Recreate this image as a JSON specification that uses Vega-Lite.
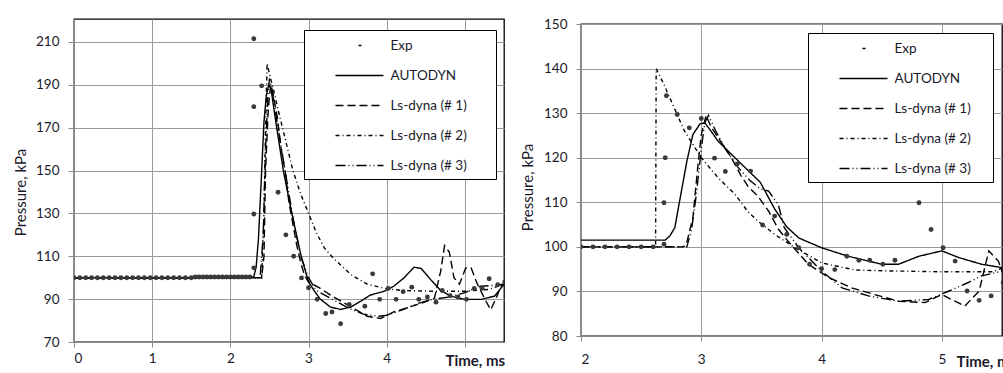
{
  "$schema": "https://vega.github.io/schema/vega-lite/v6.json",
  "padding": {"left": 12, "top": 16, "right": 0, "bottom": 0},
  "background": "#ffffff",
  "config": {
    "font": "Lato",
    "view": {"stroke": "#000000", "strokeWidth": 1.3},
    "axis": {
      "grid": true, "gridColor": "#9a9a9a", "gridWidth": 1, "gridOpacity": 1,
      "domainColor": "#8a8a8a", "tickColor": "#8a8a8a", "tickSize": 5,
      "labelFont": "Lato", "labelFontSize": 13.5, "labelColor": "#1a1a2a",
      "titleFont": "Lato", "titleFontSize": 15, "titleFontWeight": "normal", "titleColor": "#1a1a2a"
    },
    "legend": {
      "orient": "none", "fillColor": "#ffffff", "strokeColor": "#000000",
      "padding": 6.5, "symbolType": "M-3,0H3", "symbolSize": 256, "symbolStrokeWidth": 1.5,
      "symbolStrokeColor": "#000000", "symbolFillColor": "transparent", "symbolOffset": 40, "labelOffset": 22,
      "labelFont": "Lato", "labelFontSize": 13.5, "labelColor": "#1a1a2a", "rowPadding": 14,
      "titleOrient": "right", "titlePadding": 23
    }
  },
  "datasets": {
    "L": [
      {"t":0,"p":100,"s":"Exp"},{"t":0.075,"p":100,"s":"Exp"},{"t":0.15,"p":100,"s":"Exp"},{"t":0.225,"p":100,"s":"Exp"},{"t":0.3,"p":100,"s":"Exp"},{"t":0.375,"p":100,"s":"Exp"},{"t":0.45,"p":100,"s":"Exp"},{"t":0.525,"p":100,"s":"Exp"},{"t":0.6,"p":100,"s":"Exp"},{"t":0.675,"p":100,"s":"Exp"},{"t":0.75,"p":100,"s":"Exp"},{"t":0.825,"p":100,"s":"Exp"},{"t":0.9,"p":100,"s":"Exp"},{"t":0.975,"p":100,"s":"Exp"},{"t":1.05,"p":100,"s":"Exp"},{"t":1.125,"p":100,"s":"Exp"},{"t":1.2,"p":100,"s":"Exp"},{"t":1.275,"p":100,"s":"Exp"},{"t":1.35,"p":100,"s":"Exp"},{"t":1.425,"p":100,"s":"Exp"},{"t":1.5,"p":100,"s":"Exp"},{"t":1.55,"p":100.3,"s":"Exp"},{"t":1.6,"p":100.3,"s":"Exp"},{"t":1.65,"p":100.3,"s":"Exp"},{"t":1.7,"p":100.3,"s":"Exp"},{"t":1.75,"p":100.3,"s":"Exp"},{"t":1.8,"p":100.3,"s":"Exp"},{"t":1.85,"p":100.3,"s":"Exp"},{"t":1.9,"p":100.3,"s":"Exp"},{"t":1.95,"p":100.3,"s":"Exp"},{"t":2.0,"p":100.3,"s":"Exp"},{"t":2.05,"p":100.3,"s":"Exp"},{"t":2.1,"p":100.3,"s":"Exp"},{"t":2.15,"p":100.3,"s":"Exp"},{"t":2.2,"p":100.3,"s":"Exp"},{"t":2.25,"p":100.3,"s":"Exp"},
      {"t":2.3,"p":211.5,"s":"Exp"},{"t":2.4,"p":189.5,"s":"Exp"},{"t":2.3,"p":179.8,"s":"Exp"},{"t":2.61,"p":139.9,"s":"Exp"},{"t":2.3,"p":129.7,"s":"Exp"},{"t":2.71,"p":120,"s":"Exp"},{"t":2.81,"p":110,"s":"Exp"},{"t":2.3,"p":104.6,"s":"Exp"},{"t":2.91,"p":99.9,"s":"Exp"},{"t":3.0,"p":95.3,"s":"Exp"},{"t":3.11,"p":89.9,"s":"Exp"},{"t":3.22,"p":83.3,"s":"Exp"},{"t":3.3,"p":84.0,"s":"Exp"},{"t":3.41,"p":78.5,"s":"Exp"},{"t":3.52,"p":87.5,"s":"Exp"},{"t":3.72,"p":86.7,"s":"Exp"},{"t":3.82,"p":101.8,"s":"Exp"},{"t":3.91,"p":89.9,"s":"Exp"},{"t":4.02,"p":95,"s":"Exp"},{"t":4.12,"p":89.9,"s":"Exp"},{"t":4.21,"p":93.5,"s":"Exp"},{"t":4.32,"p":95.6,"s":"Exp"},{"t":4.41,"p":89.9,"s":"Exp"},{"t":4.52,"p":91,"s":"Exp"},{"t":4.63,"p":88.6,"s":"Exp"},{"t":4.71,"p":94,"s":"Exp"},{"t":4.81,"p":91.6,"s":"Exp"},{"t":4.91,"p":91,"s":"Exp"},{"t":5.02,"p":89.9,"s":"Exp"},{"t":5.12,"p":95,"s":"Exp"},{"t":5.22,"p":95,"s":"Exp"},{"t":5.31,"p":99.5,"s":"Exp"},{"t":5.42,"p":96.7,"s":"Exp"},{"t":5.51,"p":98,"s":"Exp"},
      {"t":0,"p":100,"s":"AUTODYN"},{"t":2.25,"p":100,"s":"AUTODYN"},{"t":2.3,"p":100.5,"s":"AUTODYN"},{"t":2.33,"p":105,"s":"AUTODYN"},{"t":2.36,"p":118.5,"s":"AUTODYN"},{"t":2.4,"p":149.5,"s":"AUTODYN"},{"t":2.43,"p":172.8,"s":"AUTODYN"},{"t":2.46,"p":185,"s":"AUTODYN"},{"t":2.49,"p":190,"s":"AUTODYN"},{"t":2.52,"p":188,"s":"AUTODYN"},{"t":2.58,"p":173,"s":"AUTODYN"},{"t":2.68,"p":149.5,"s":"AUTODYN"},{"t":2.79,"p":129.4,"s":"AUTODYN"},{"t":2.9,"p":110.8,"s":"AUTODYN"},{"t":3.0,"p":98,"s":"AUTODYN"},{"t":3.08,"p":93.5,"s":"AUTODYN"},{"t":3.15,"p":90,"s":"AUTODYN"},{"t":3.28,"p":86.3,"s":"AUTODYN"},{"t":3.41,"p":85.2,"s":"AUTODYN"},{"t":3.54,"p":86.3,"s":"AUTODYN"},{"t":3.67,"p":89.1,"s":"AUTODYN"},{"t":3.79,"p":91.9,"s":"AUTODYN"},{"t":3.97,"p":93.7,"s":"AUTODYN"},{"t":4.09,"p":96,"s":"AUTODYN"},{"t":4.22,"p":99.9,"s":"AUTODYN"},{"t":4.35,"p":104.9,"s":"AUTODYN"},{"t":4.44,"p":104.3,"s":"AUTODYN"},{"t":4.56,"p":99.2,"s":"AUTODYN"},{"t":4.69,"p":94,"s":"AUTODYN"},{"t":4.82,"p":91.4,"s":"AUTODYN"},{"t":4.99,"p":89.9,"s":"AUTODYN"},{"t":5.21,"p":89.9,"s":"AUTODYN"},{"t":5.38,"p":91.4,"s":"AUTODYN"},{"t":5.48,"p":96,"s":"AUTODYN"},{"t":5.52,"p":98,"s":"AUTODYN"},
      {"t":0,"p":100,"s":"Ls-dyna (# 1)"},{"t":2.4,"p":100,"s":"Ls-dyna (# 1)"},{"t":2.43,"p":110,"s":"Ls-dyna (# 1)"},{"t":2.45,"p":150,"s":"Ls-dyna (# 1)"},{"t":2.48,"p":175,"s":"Ls-dyna (# 1)"},{"t":2.5,"p":185,"s":"Ls-dyna (# 1)"},{"t":2.52,"p":190,"s":"Ls-dyna (# 1)"},{"t":2.55,"p":185,"s":"Ls-dyna (# 1)"},{"t":2.6,"p":175,"s":"Ls-dyna (# 1)"},{"t":2.65,"p":160,"s":"Ls-dyna (# 1)"},{"t":2.7,"p":150,"s":"Ls-dyna (# 1)"},{"t":2.75,"p":135,"s":"Ls-dyna (# 1)"},{"t":2.8,"p":125,"s":"Ls-dyna (# 1)"},{"t":2.85,"p":115,"s":"Ls-dyna (# 1)"},{"t":2.9,"p":107,"s":"Ls-dyna (# 1)"},{"t":2.95,"p":101,"s":"Ls-dyna (# 1)"},{"t":3.0,"p":98,"s":"Ls-dyna (# 1)"},{"t":3.15,"p":95,"s":"Ls-dyna (# 1)"},{"t":3.32,"p":91,"s":"Ls-dyna (# 1)"},{"t":3.54,"p":86.5,"s":"Ls-dyna (# 1)"},{"t":3.75,"p":82,"s":"Ls-dyna (# 1)"},{"t":3.92,"p":81,"s":"Ls-dyna (# 1)"},{"t":4.09,"p":84,"s":"Ls-dyna (# 1)"},{"t":4.26,"p":86,"s":"Ls-dyna (# 1)"},{"t":4.44,"p":88,"s":"Ls-dyna (# 1)"},{"t":4.61,"p":90.5,"s":"Ls-dyna (# 1)"},{"t":4.69,"p":103,"s":"Ls-dyna (# 1)"},{"t":4.74,"p":115,"s":"Ls-dyna (# 1)"},{"t":4.8,"p":112,"s":"Ls-dyna (# 1)"},{"t":4.86,"p":100,"s":"Ls-dyna (# 1)"},{"t":4.93,"p":97,"s":"Ls-dyna (# 1)"},{"t":5.01,"p":104.5,"s":"Ls-dyna (# 1)"},{"t":5.08,"p":104.5,"s":"Ls-dyna (# 1)"},{"t":5.16,"p":97,"s":"Ls-dyna (# 1)"},{"t":5.27,"p":89,"s":"Ls-dyna (# 1)"},{"t":5.33,"p":85,"s":"Ls-dyna (# 1)"},{"t":5.4,"p":90.5,"s":"Ls-dyna (# 1)"},{"t":5.46,"p":96,"s":"Ls-dyna (# 1)"},{"t":5.51,"p":97,"s":"Ls-dyna (# 1)"},
      {"t":0,"p":100,"s":"Ls-dyna (# 2)"},{"t":2.4,"p":100,"s":"Ls-dyna (# 2)"},{"t":2.43,"p":130,"s":"Ls-dyna (# 2)"},{"t":2.45,"p":170,"s":"Ls-dyna (# 2)"},{"t":2.47,"p":200,"s":"Ls-dyna (# 2)"},{"t":2.5,"p":195,"s":"Ls-dyna (# 2)"},{"t":2.55,"p":188,"s":"Ls-dyna (# 2)"},{"t":2.6,"p":180,"s":"Ls-dyna (# 2)"},{"t":2.7,"p":165,"s":"Ls-dyna (# 2)"},{"t":2.8,"p":150,"s":"Ls-dyna (# 2)"},{"t":2.9,"p":139,"s":"Ls-dyna (# 2)"},{"t":3.0,"p":130,"s":"Ls-dyna (# 2)"},{"t":3.1,"p":121,"s":"Ls-dyna (# 2)"},{"t":3.2,"p":114,"s":"Ls-dyna (# 2)"},{"t":3.32,"p":109,"s":"Ls-dyna (# 2)"},{"t":3.54,"p":101.5,"s":"Ls-dyna (# 2)"},{"t":3.75,"p":97,"s":"Ls-dyna (# 2)"},{"t":3.97,"p":95,"s":"Ls-dyna (# 2)"},{"t":4.2,"p":94,"s":"Ls-dyna (# 2)"},{"t":4.6,"p":93.7,"s":"Ls-dyna (# 2)"},{"t":5.0,"p":93.7,"s":"Ls-dyna (# 2)"},{"t":5.3,"p":94.5,"s":"Ls-dyna (# 2)"},{"t":5.51,"p":97,"s":"Ls-dyna (# 2)"},
      {"t":0,"p":100,"s":"Ls-dyna (# 3)"},{"t":2.38,"p":100,"s":"Ls-dyna (# 3)"},{"t":2.42,"p":120,"s":"Ls-dyna (# 3)"},{"t":2.45,"p":160,"s":"Ls-dyna (# 3)"},{"t":2.48,"p":185,"s":"Ls-dyna (# 3)"},{"t":2.5,"p":193,"s":"Ls-dyna (# 3)"},{"t":2.53,"p":188,"s":"Ls-dyna (# 3)"},{"t":2.6,"p":172,"s":"Ls-dyna (# 3)"},{"t":2.7,"p":150,"s":"Ls-dyna (# 3)"},{"t":2.8,"p":128,"s":"Ls-dyna (# 3)"},{"t":2.9,"p":110,"s":"Ls-dyna (# 3)"},{"t":3.0,"p":100,"s":"Ls-dyna (# 3)"},{"t":3.1,"p":94,"s":"Ls-dyna (# 3)"},{"t":3.3,"p":90,"s":"Ls-dyna (# 3)"},{"t":3.5,"p":86,"s":"Ls-dyna (# 3)"},{"t":3.7,"p":83,"s":"Ls-dyna (# 3)"},{"t":3.9,"p":82,"s":"Ls-dyna (# 3)"},{"t":4.0,"p":82.5,"s":"Ls-dyna (# 3)"},{"t":4.2,"p":85,"s":"Ls-dyna (# 3)"},{"t":4.4,"p":88,"s":"Ls-dyna (# 3)"},{"t":4.6,"p":90,"s":"Ls-dyna (# 3)"},{"t":4.8,"p":91,"s":"Ls-dyna (# 3)"},{"t":5.0,"p":93,"s":"Ls-dyna (# 3)"},{"t":5.2,"p":96,"s":"Ls-dyna (# 3)"},{"t":5.4,"p":96.5,"s":"Ls-dyna (# 3)"},{"t":5.51,"p":97,"s":"Ls-dyna (# 3)"}
    ],
    "R": [
      {"t":2.0,"p":100,"s":"Exp"},{"t":2.1,"p":100,"s":"Exp"},{"t":2.2,"p":100,"s":"Exp"},{"t":2.3,"p":100,"s":"Exp"},{"t":2.4,"p":100,"s":"Exp"},{"t":2.5,"p":100,"s":"Exp"},{"t":2.6,"p":100,"s":"Exp"},{"t":2.69,"p":100.6,"s":"Exp"},{"t":2.69,"p":109.9,"s":"Exp"},{"t":2.7,"p":120,"s":"Exp"},{"t":2.71,"p":133.9,"s":"Exp"},{"t":2.8,"p":129.7,"s":"Exp"},{"t":2.9,"p":126.7,"s":"Exp"},{"t":3.0,"p":128.8,"s":"Exp"},{"t":3.11,"p":119.9,"s":"Exp"},{"t":3.2,"p":116.9,"s":"Exp"},{"t":3.3,"p":118.6,"s":"Exp"},{"t":3.41,"p":117,"s":"Exp"},{"t":3.51,"p":104.9,"s":"Exp"},{"t":3.61,"p":106.9,"s":"Exp"},{"t":3.71,"p":102.8,"s":"Exp"},{"t":3.81,"p":99.8,"s":"Exp"},{"t":3.9,"p":96.1,"s":"Exp"},{"t":4.0,"p":95.1,"s":"Exp"},{"t":4.11,"p":94.9,"s":"Exp"},{"t":4.21,"p":97.9,"s":"Exp"},{"t":4.31,"p":97,"s":"Exp"},{"t":4.4,"p":97,"s":"Exp"},{"t":4.51,"p":96.1,"s":"Exp"},{"t":4.61,"p":97,"s":"Exp"},{"t":4.81,"p":109.9,"s":"Exp"},{"t":4.91,"p":103.9,"s":"Exp"},{"t":5.01,"p":99.8,"s":"Exp"},{"t":5.11,"p":96.8,"s":"Exp"},{"t":5.21,"p":90.1,"s":"Exp"},{"t":5.31,"p":88,"s":"Exp"},{"t":5.41,"p":89,"s":"Exp"},{"t":5.51,"p":92,"s":"Exp"},
      {"t":2.0,"p":101.5,"s":"AUTODYN"},{"t":2.7,"p":101.5,"s":"AUTODYN"},{"t":2.74,"p":102.5,"s":"AUTODYN"},{"t":2.78,"p":104.3,"s":"AUTODYN"},{"t":2.83,"p":111.8,"s":"AUTODYN"},{"t":2.88,"p":119.2,"s":"AUTODYN"},{"t":2.93,"p":125.2,"s":"AUTODYN"},{"t":2.99,"p":127.6,"s":"AUTODYN"},{"t":3.03,"p":127.8,"s":"AUTODYN"},{"t":3.08,"p":126,"s":"AUTODYN"},{"t":3.14,"p":123.7,"s":"AUTODYN"},{"t":3.31,"p":119.2,"s":"AUTODYN"},{"t":3.49,"p":114.5,"s":"AUTODYN"},{"t":3.61,"p":108.5,"s":"AUTODYN"},{"t":3.71,"p":104.5,"s":"AUTODYN"},{"t":3.81,"p":102,"s":"AUTODYN"},{"t":4.0,"p":99.8,"s":"AUTODYN"},{"t":4.22,"p":97.9,"s":"AUTODYN"},{"t":4.5,"p":96.1,"s":"AUTODYN"},{"t":4.64,"p":96.1,"s":"AUTODYN"},{"t":4.81,"p":97.9,"s":"AUTODYN"},{"t":5.0,"p":99.1,"s":"AUTODYN"},{"t":5.14,"p":97.6,"s":"AUTODYN"},{"t":5.33,"p":96.1,"s":"AUTODYN"},{"t":5.51,"p":95.3,"s":"AUTODYN"},
      {"t":2.0,"p":100,"s":"Ls-dyna (# 1)"},{"t":2.85,"p":100,"s":"Ls-dyna (# 1)"},{"t":2.875,"p":100.5,"s":"Ls-dyna (# 1)"},{"t":2.93,"p":106.5,"s":"Ls-dyna (# 1)"},{"t":2.97,"p":117.7,"s":"Ls-dyna (# 1)"},{"t":3.0,"p":125.2,"s":"Ls-dyna (# 1)"},{"t":3.04,"p":129.5,"s":"Ls-dyna (# 1)"},{"t":3.08,"p":127,"s":"Ls-dyna (# 1)"},{"t":3.14,"p":124.5,"s":"Ls-dyna (# 1)"},{"t":3.25,"p":120,"s":"Ls-dyna (# 1)"},{"t":3.33,"p":116,"s":"Ls-dyna (# 1)"},{"t":3.39,"p":113.5,"s":"Ls-dyna (# 1)"},{"t":3.47,"p":111.4,"s":"Ls-dyna (# 1)"},{"t":3.56,"p":108,"s":"Ls-dyna (# 1)"},{"t":3.64,"p":104,"s":"Ls-dyna (# 1)"},{"t":3.72,"p":101.3,"s":"Ls-dyna (# 1)"},{"t":3.89,"p":96.1,"s":"Ls-dyna (# 1)"},{"t":4.06,"p":93.1,"s":"Ls-dyna (# 1)"},{"t":4.25,"p":90.8,"s":"Ls-dyna (# 1)"},{"t":4.44,"p":89.3,"s":"Ls-dyna (# 1)"},{"t":4.64,"p":87.8,"s":"Ls-dyna (# 1)"},{"t":4.86,"p":87.5,"s":"Ls-dyna (# 1)"},{"t":5.0,"p":89.3,"s":"Ls-dyna (# 1)"},{"t":5.11,"p":87.8,"s":"Ls-dyna (# 1)"},{"t":5.19,"p":86.7,"s":"Ls-dyna (# 1)"},{"t":5.31,"p":90.1,"s":"Ls-dyna (# 1)"},{"t":5.39,"p":99.1,"s":"Ls-dyna (# 1)"},{"t":5.47,"p":96.8,"s":"Ls-dyna (# 1)"},{"t":5.51,"p":93.8,"s":"Ls-dyna (# 1)"},
      {"t":2.0,"p":100,"s":"Ls-dyna (# 2)"},{"t":2.62,"p":100,"s":"Ls-dyna (# 2)"},{"t":2.625,"p":140,"s":"Ls-dyna (# 2)"},{"t":2.69,"p":136.4,"s":"Ls-dyna (# 2)"},{"t":2.75,"p":132.7,"s":"Ls-dyna (# 2)"},{"t":2.86,"p":126,"s":"Ls-dyna (# 2)"},{"t":3.0,"p":120,"s":"Ls-dyna (# 2)"},{"t":3.14,"p":115.5,"s":"Ls-dyna (# 2)"},{"t":3.28,"p":111.8,"s":"Ls-dyna (# 2)"},{"t":3.39,"p":107.8,"s":"Ls-dyna (# 2)"},{"t":3.47,"p":105.8,"s":"Ls-dyna (# 2)"},{"t":3.61,"p":102.8,"s":"Ls-dyna (# 2)"},{"t":3.78,"p":99.8,"s":"Ls-dyna (# 2)"},{"t":4.0,"p":96.4,"s":"Ls-dyna (# 2)"},{"t":4.28,"p":94.8,"s":"Ls-dyna (# 2)"},{"t":4.58,"p":94.6,"s":"Ls-dyna (# 2)"},{"t":5.0,"p":94.4,"s":"Ls-dyna (# 2)"},{"t":5.42,"p":94.4,"s":"Ls-dyna (# 2)"},{"t":5.51,"p":95.3,"s":"Ls-dyna (# 2)"},
      {"t":2.0,"p":100,"s":"Ls-dyna (# 3)"},{"t":2.88,"p":100,"s":"Ls-dyna (# 3)"},{"t":2.92,"p":104,"s":"Ls-dyna (# 3)"},{"t":2.96,"p":112,"s":"Ls-dyna (# 3)"},{"t":3.0,"p":122,"s":"Ls-dyna (# 3)"},{"t":3.03,"p":128,"s":"Ls-dyna (# 3)"},{"t":3.06,"p":129.5,"s":"Ls-dyna (# 3)"},{"t":3.12,"p":126,"s":"Ls-dyna (# 3)"},{"t":3.2,"p":122,"s":"Ls-dyna (# 3)"},{"t":3.3,"p":118,"s":"Ls-dyna (# 3)"},{"t":3.4,"p":115,"s":"Ls-dyna (# 3)"},{"t":3.49,"p":113,"s":"Ls-dyna (# 3)"},{"t":3.56,"p":112.5,"s":"Ls-dyna (# 3)"},{"t":3.64,"p":109.5,"s":"Ls-dyna (# 3)"},{"t":3.69,"p":104.3,"s":"Ls-dyna (# 3)"},{"t":3.81,"p":99.8,"s":"Ls-dyna (# 3)"},{"t":4.0,"p":94.6,"s":"Ls-dyna (# 3)"},{"t":4.17,"p":90.8,"s":"Ls-dyna (# 3)"},{"t":4.39,"p":89,"s":"Ls-dyna (# 3)"},{"t":4.64,"p":87.8,"s":"Ls-dyna (# 3)"},{"t":4.89,"p":88.2,"s":"Ls-dyna (# 3)"},{"t":5.06,"p":90.1,"s":"Ls-dyna (# 3)"},{"t":5.22,"p":92,"s":"Ls-dyna (# 3)"},{"t":5.33,"p":93.5,"s":"Ls-dyna (# 3)"},{"t":5.51,"p":94.6,"s":"Ls-dyna (# 3)"}
    ]
  },
  "spacing": 13,
  "resolve": {"scale": {"x": "independent", "y": "independent", "strokeDash": "independent"}, "legend": {"strokeDash": "independent"}},
  "hconcat": [
    {
      "width": 430, "height": 323,
      "data": {"name": "L"},
      "layer": [
        {
          "transform": [{"filter": "datum.s != 'Exp'"}],
          "mark": {"type": "line", "clip": true, "color": "#000000", "strokeWidth": 1.4},
          "encoding": {
            "x": {"field": "t", "type": "quantitative", "scale": {"domain": [0, 5.5], "nice": false, "zero": false},
              "axis": {"grid": true, "values": [0, 1, 2, 3, 4, 5], "format": ".0f", "labelExpr": "datum.value == 5 ? '' : datum.label", "labelPadding": 4,
                "title": "Time, ms", "titleFontWeight": "bold", "titleFontSize": 15, "titleX": 371, "titleY": 23, "titleAlign": "left", "titleBaseline": "alphabetic"}},
            "y": {"field": "p", "type": "quantitative", "scale": {"domain": [70, 220.7], "nice": false, "zero": false},
              "axis": {"grid": true, "values": [70, 90, 110, 130, 150, 170, 190, 210], "format": ".0f", "tickSize": 6, "labelPadding": 9,
                "title": "Pressure, kPa", "titleX": -54, "titleY": 173, "titleBaseline": "middle", "titleAlign": "center"}},
            "strokeDash": {"field": "s", "type": "nominal",
              "scale": {"domain": ["Exp", "AUTODYN", "Ls-dyna (# 1)", "Ls-dyna (# 2)", "Ls-dyna (# 3)"],
                "range": [[0, 23, 3, 100], [1, 0], [8, 4], [4, 3, 1, 3], [10, 3, 1, 3, 1, 3]]},
              "legend": {"title": "\u00a0", "legendX": 230, "legendY": 11}}
          }
        },
        {
          "transform": [{"filter": "datum.s == 'Exp'"}],
          "mark": {"type": "point", "filled": true, "clip": true, "size": 24, "color": "#3a3a3a", "opacity": 1},
          "encoding": {
            "x": {"field": "t", "type": "quantitative"},
            "y": {"field": "p", "type": "quantitative"}
          }
        }
      ]
    },
    {
      "spacing": -4,
      "vconcat": [
        {
          "width": 421, "height": 1,
          "view": {"stroke": null},
          "data": {"values": []},
          "mark": "point"
        },
        {
          "width": 421, "height": 312,
          "data": {"name": "R"},
          "layer": [
            {
              "transform": [{"filter": "datum.s != 'Exp'"}],
              "mark": {"type": "line", "clip": true, "color": "#000000", "strokeWidth": 1.4},
              "encoding": {
                "x": {"field": "t", "type": "quantitative", "scale": {"domain": [2, 5.5], "nice": false, "zero": false},
                  "axis": {"grid": true, "values": [2, 3, 4, 5], "format": ".0f", "labelPadding": 11,
                    "title": "Time, ms", "titleFontWeight": "bold", "titleFontSize": 15, "titleX": 375, "titleY": 30, "titleAlign": "left", "titleBaseline": "alphabetic"}},
                "y": {"field": "p", "type": "quantitative", "scale": {"domain": [80, 150], "nice": false, "zero": false},
                  "axis": {"grid": true, "values": [80, 90, 100, 110, 120, 130, 140, 150], "format": ".0f", "tickSize": 5, "labelPadding": 9,
                    "title": "Pressure, kPa", "titleX": -54, "titleY": 163, "titleBaseline": "middle", "titleAlign": "center"}},
                "strokeDash": {"field": "s", "type": "nominal",
                  "scale": {"domain": ["Exp", "AUTODYN", "Ls-dyna (# 1)", "Ls-dyna (# 2)", "Ls-dyna (# 3)"],
                    "range": [[0, 23, 3, 100], [1, 0], [8, 4], [4, 3, 1, 3], [10, 3, 1, 3, 1, 3]]},
                  "legend": {"title": "\u00a0", "legendX": 227, "legendY": 14, "titlePadding": 16}}
              }
            },
            {
              "transform": [{"filter": "datum.s == 'Exp'"}],
              "mark": {"type": "point", "filled": true, "clip": true, "size": 24, "color": "#3a3a3a", "opacity": 1},
              "encoding": {
                "x": {"field": "t", "type": "quantitative"},
                "y": {"field": "p", "type": "quantitative"}
              }
            }
          ]
        }
      ]
    }
  ]
}
